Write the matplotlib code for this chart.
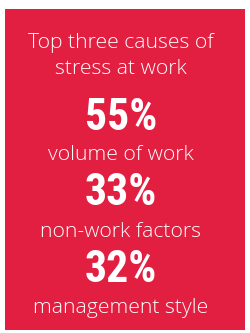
import matplotlib
matplotlib.use('Agg')
import matplotlib.pyplot as plt
from matplotlib.patches import Rectangle

title_lines = ['Top three causes of', 'stress at work']
percents    = [55, 33, 32]
causes      = ['volume of work', 'non-work factors', 'management style']

red = '#E21E41'

fig = plt.figure(figsize=(2.51, 3.33), dpi=100)
ax  = fig.add_axes([0, 0, 1, 1])
ax.set_xlim(0, 251)
ax.set_ylim(333, 0)
ax.axis('off')

ax.add_patch(Rectangle((5, 9), 240, 321, color=red, lw=0))

cx = 121
light = dict(color='white', family=['Open Sans', 'DejaVu Sans'], fontweight='light',
             ha='center', va='center')
ax.text(cx, 43, title_lines[0], fontsize=15.2, **light)
ax.text(cx, 69, title_lines[1], fontsize=15.2, **light)

num_font = ['Roboto Condensed', 'DejaVu Sans Condensed', 'Liberation Sans Narrow', 'DejaVu Sans']
num_y   = [118, 193, 270]
cause_y = [155, 232, 308]
for p, c, ny, cy in zip(percents, causes, num_y, cause_y):
    ax.text(cx, ny, f'{p}%', color='white', fontsize=31.5, fontweight='bold',
            family=num_font, ha='center', va='center')
    ax.text(cx, cy, c, fontsize=15.2, **light)

fig.savefig('out.png', dpi=100)
